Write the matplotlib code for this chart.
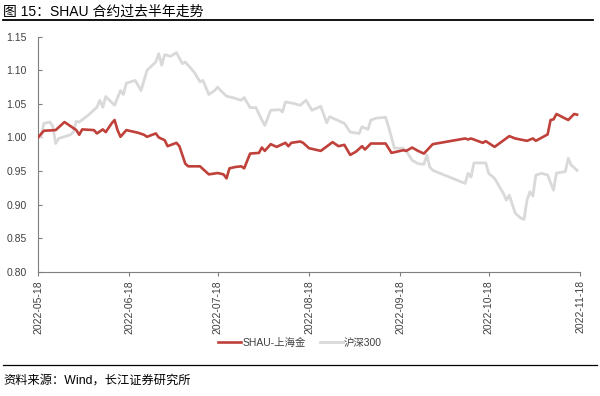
import numpy as np
import pandas as pd
import matplotlib
matplotlib.use("Agg")
import matplotlib.pyplot as plt
import matplotlib.dates as mdates
from matplotlib.lines import Line2D

plt.rcParams['font.family'] = ['Liberation Sans', 'Noto Sans CJK SC']

start = pd.Timestamp('2022-05-18')

# days after 2022-05-18, values normalised to 1 on the start date
gold_days = [0, 2, 6, 7, 9, 11, 13, 14, 15, 19, 20, 22, 23, 25, 26, 27, 28, 30, 34, 36,
             37, 40, 41, 43, 44, 47, 48, 50, 51, 55, 57, 58, 61, 63, 64, 65, 67, 69, 70, 72,
             75, 76, 77, 79, 81, 84, 85, 86, 89, 90, 92, 96, 100, 102, 104, 106, 108, 110, 111, 113,
             118, 120, 124, 125, 127, 129, 131, 134, 145, 146, 147, 151, 152, 155, 160, 162, 166, 168, 169, 173,
             174, 175, 176, 180, 182, 183]
gold_vals = [1.000, 1.010, 1.011, 1.015, 1.023, 1.017, 1.011, 1.004, 1.012, 1.011,
             1.006, 1.012, 1.008, 1.021, 1.026, 1.011, 1.001, 1.011, 1.007, 1.004,
             1.001, 1.006, 1.000, 0.996, 0.987, 0.992, 0.987, 0.961, 0.957, 0.957,
             0.949, 0.945, 0.947, 0.945, 0.939, 0.954, 0.956, 0.957, 0.954, 0.976,
             0.977, 0.985, 0.980, 0.990, 0.986, 0.992, 0.987, 0.992, 0.994, 0.992,
             0.984, 0.980, 0.993, 0.987, 0.989, 0.974, 0.979, 0.987, 0.982, 0.991,
             0.991, 0.977, 0.981, 0.980, 0.985, 0.980, 0.976, 0.990, 0.9985, 0.997,
             0.9985, 0.992, 0.9945, 0.986, 1.002, 0.9985, 0.995, 0.9985, 0.995, 1.0045,
             1.026, 1.027, 1.035, 1.026, 1.035, 1.034]

hs300_days = [0, 1, 2, 4, 5, 6, 7, 11, 12, 13, 14, 17, 20, 21, 22, 23, 26, 28, 29, 30,
              33, 35, 37, 40, 41, 42, 43, 45, 47, 49, 50, 53, 55, 56, 58, 60, 61, 62, 64, 66,
              69, 70, 72, 74, 76, 77, 79, 82, 83, 84, 87, 89, 91, 93, 96, 98, 99, 103, 104, 106,
              109, 110, 112, 113, 115, 118, 119, 121, 124, 125, 127, 129, 131, 132, 133, 134, 145, 146, 147, 148,
              152, 153, 155, 158, 159, 160, 162, 164, 165, 166, 167, 168, 169, 171, 173, 175, 176, 179, 180, 181,
              183]
hs300_vals = [1.000, 1.001, 1.021, 1.023, 1.017, 0.991, 0.9985, 1.004, 1.008, 1.024,
              1.023, 1.033, 1.045, 1.0555, 1.045, 1.061, 1.048, 1.070, 1.064, 1.081,
              1.085, 1.070, 1.100, 1.1125, 1.125, 1.1075, 1.1235, 1.121, 1.1265, 1.110,
              1.1125, 1.0975, 1.083, 1.085, 1.064, 1.070, 1.075, 1.070, 1.0615, 1.0595,
              1.0555, 1.0595, 1.0445, 1.0445, 1.026, 1.018, 1.0405, 1.0415, 1.038, 1.053,
              1.0505, 1.048, 1.0555, 1.0405, 1.0465, 1.022, 1.031, 1.023, 1.021, 1.008,
              1.006, 1.016, 1.012, 1.026, 1.029, 1.030, 1.016, 0.984, 0.984, 0.980,
              0.966, 0.961, 0.960, 0.974, 0.956, 0.951, 0.9315, 0.9465, 0.941, 0.962,
              0.962, 0.9465, 0.939, 0.9165, 0.9065, 0.914, 0.887, 0.8795, 0.878, 0.9065,
              0.919, 0.9125, 0.944, 0.9465, 0.944, 0.9215, 0.947, 0.949, 0.969, 0.959,
              0.951]

tick_dates = ['2022-05-18', '2022-06-18', '2022-07-18', '2022-08-18',
              '2022-09-18', '2022-10-18', '2022-11-18']

gold_x = start + pd.to_timedelta(gold_days, unit='D')
hs300_x = start + pd.to_timedelta(hs300_days, unit='D')

red = '#C0403A'
grey = '#D9D9D9'
txt = '#404040'

fig = plt.figure(figsize=(6, 3.96), dpi=100)
ax = fig.add_axes([0.0633, 0.314, 0.9034, 0.593])

ax.plot(hs300_x, hs300_vals, color=grey, lw=2.0, zorder=2, solid_joinstyle='round')
ax.plot(gold_x, gold_vals, color=red, lw=1.9, zorder=3, solid_joinstyle='round')

ax.set_ylim(0.80, 1.15)
ax.set_yticks(np.arange(0.80, 1.151, 0.05))
ax.yaxis.set_major_formatter(matplotlib.ticker.FormatStrFormatter('%.2f'))
ax.set_xlim(pd.Timestamp(tick_dates[0]), pd.Timestamp(tick_dates[-1]))
ax.set_xticks(pd.to_datetime(tick_dates))
ax.xaxis.set_major_formatter(mdates.DateFormatter('%Y-%m-%d'))
plt.setp(ax.get_xticklabels(), rotation=90)

for s in ['top', 'right']:
    ax.spines[s].set_visible(False)
for s in ['left', 'bottom']:
    ax.spines[s].set_color('#7F7F7F')
    ax.spines[s].set_linewidth(0.8)
ax.tick_params(axis='y', direction='in', length=3, color='#7F7F7F', labelsize=7.5, labelcolor=txt, pad=8)
ax.tick_params(axis='x', direction='out', length=3, color='#7F7F7F', labelsize=7.5, labelcolor=txt, pad=3)

handles = [Line2D([], [], color=red, lw=1.9), Line2D([], [], color=grey, lw=2.0)]
fig.legend(handles, ['SHAU-上海金', '沪深300'], loc='center', bbox_to_anchor=(0.5, 0.134),
           ncol=2, frameon=False, fontsize=7.5, handlelength=2.2, handletextpad=0.1,
           columnspacing=1.4, labelcolor=txt)

# title and source
fig.text(0.005, 0.97, '图 15：SHAU 合约过去半年走势', fontsize=10, color='black', va='center', ha='left')
fig.add_artist(Line2D([0.005, 0.988], [0.949, 0.949], color='black', lw=1.3))
fig.add_artist(Line2D([0.005, 0.995], [0.079, 0.079], color='black', lw=0.9))
fig.text(0.005, 0.04, '资料来源：Wind，长江证券研究所', fontsize=8.8, color='black', va='center', ha='left')

fig.savefig('out.png', dpi=100)
